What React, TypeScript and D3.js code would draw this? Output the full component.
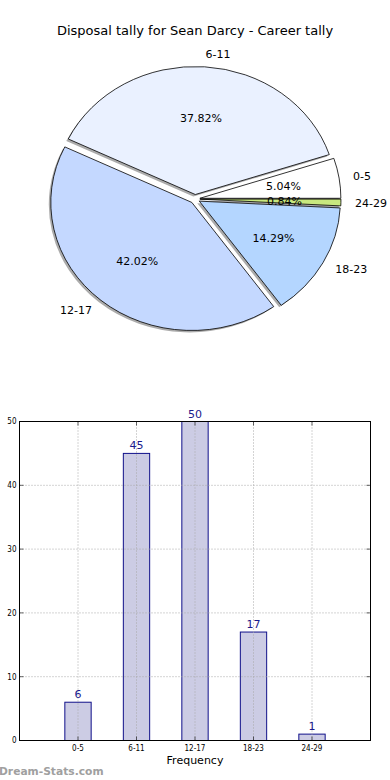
import * as React from 'react';
import * as d3 from 'd3';

// pie + bar data
const categories = ['0-5', '6-11', '12-17', '18-23', '24-29'];
const disposals = [6, 45, 50, 17, 1];
const sliceColors = ['#ffffff', '#eaf1ff', '#c4d8ff', '#b4d6ff', '#c8e87f'];
const yTicks = [0, 10, 20, 30, 40, 50];

const W = 390, H = 780;
const font = '"DejaVu Sans", sans-serif';

function Pie() {
  const cx = 195, cy = 199, rx = 141, ry = 128, explode = 0.035;
  const total = d3.sum(disposals);
  // matplotlib-style angles: ccw from east, starting at 0
  const ang = d3.scaleLinear().domain([0, total]).range([0, 2 * Math.PI]);
  const arc = d3.arc<any>().innerRadius(0).outerRadius(1);
  let acc = 0;
  const slices = disposals.map((v, i) => {
    const t1 = ang(acc), t2 = ang(acc + v);
    acc += v;
    const mid = (t1 + t2) / 2;
    return { i, v, t1, t2, mid };
  });

  return (
    <g>
      {slices.map(s => {
        const ox = cx + explode * rx * Math.cos(s.mid);
        const oy = cy - explode * ry * Math.sin(s.mid);
        const d = arc({ startAngle: Math.PI / 2 - s.t2, endAngle: Math.PI / 2 - s.t1 }) as string;
        return (
          <g key={'w' + s.i} transform={`translate(${ox - 2},${oy + 2}) scale(${rx},${ry})`}>
            <path d={d} fill="#666" opacity={0.55} />
          </g>
        );
      })}
      {slices.map(s => {
        const ox = cx + explode * rx * Math.cos(s.mid);
        const oy = cy - explode * ry * Math.sin(s.mid);
        const d = arc({ startAngle: Math.PI / 2 - s.t2, endAngle: Math.PI / 2 - s.t1 }) as string;
        return (
          <g key={'p' + s.i} transform={`translate(${ox},${oy}) scale(${rx},${ry})`}>
            <path d={d} fill={sliceColors[s.i]} stroke="#000" strokeWidth={0.8}
              vectorEffect="non-scaling-stroke" strokeLinejoin="round" />
          </g>
        );
      })}
      {slices.map(s => {
        const ox = cx + explode * rx * Math.cos(s.mid);
        const oy = cy - explode * ry * Math.sin(s.mid);
        const lx = ox + 1.1 * rx * Math.cos(s.mid);
        const ly = oy - 1.1 * ry * Math.sin(s.mid);
        const px = ox + 0.6 * rx * Math.cos(s.mid);
        const py = oy - 0.6 * ry * Math.sin(s.mid);
        return (
          <g key={'t' + s.i} fontFamily={font} fontSize={11} fill="#000">
            <text x={lx} y={ly} dy="0.35em" textAnchor={Math.cos(s.mid) > 0 ? 'start' : 'end'}>
              {categories[s.i]}
            </text>
            <text x={px} y={py} dy="0.35em" textAnchor="middle">
              {(s.v / total * 100).toFixed(2) + '%'}
            </text>
          </g>
        );
      })}
    </g>
  );
}

function Bars() {
  const left = 19.5, right = 370.5, top = 421.5, bottom = 740.5;
  const x = d3.scaleLinear().domain([-1, 5]).range([left, right]);
  const y = d3.scaleLinear().domain([0, 50]).range([bottom, top]);
  const bw = x(0.45) - x(0);

  return (
    <g>
      {disposals.map((v, i) => (
        <rect key={'b' + i} x={x(i) - bw / 2} y={y(v)} width={bw} height={y(0) - y(v)}
          fill="#ccccE4" stroke="#10108a" strokeWidth={1} />
      ))}
      {/* grid */}
      {yTicks.map(t => (
        <line key={'gy' + t} x1={left} x2={right} y1={y(t)} y2={y(t)}
          stroke="#a8a8a8" strokeWidth={1} strokeDasharray="1,2" />
      ))}
      {categories.map((c, i) => (
        <line key={'gx' + c} x1={x(i)} x2={x(i)} y1={top} y2={bottom}
          stroke="#a8a8a8" strokeWidth={1} strokeDasharray="1,2" />
      ))}
      {/* ticks */}
      {yTicks.map(t => (
        <g key={'ty' + t}>
          <line x1={left} x2={left + 4} y1={y(t)} y2={y(t)} stroke="#000" strokeWidth={0.6} />
          <line x1={right - 4} x2={right} y1={y(t)} y2={y(t)} stroke="#000" strokeWidth={0.6} />
          <text x={left - 3} y={y(t)} dy="0.35em" textAnchor="end" fontFamily='"DejaVu Sans Condensed", sans-serif'
            fontSize={8} fill="#000">{t}</text>
        </g>
      ))}
      {categories.map((c, i) => (
        <g key={'tx' + c}>
          <line x1={x(i)} x2={x(i)} y1={bottom} y2={bottom - 4} stroke="#000" strokeWidth={0.6} />
          <line x1={x(i)} x2={x(i)} y1={top} y2={top + 4} stroke="#000" strokeWidth={0.6} />
          <text x={x(i)} y={bottom + 10} textAnchor="middle" fontFamily='"DejaVu Sans Condensed", sans-serif'
            fontSize={8} fill="#000">{c}</text>
        </g>
      ))}
      <rect x={left} y={top} width={right - left} height={bottom - top} fill="none" stroke="#000" strokeWidth={1} />
      {disposals.map((v, i) => (
        <text key={'v' + i} x={x(i)} y={y(v) - 4} textAnchor="middle" fontFamily={font}
          fontSize={11} fill="#1a1a8c">{v}</text>
      ))}
      <text x={(left + right) / 2} y={764} textAnchor="middle" fontFamily={font} fontSize={11} fill="#000">Frequency</text>
    </g>
  );
}

export default function App() {
  return (
    <svg width={W} height={H} style={{ position: 'absolute', left: 0, top: 0, background: '#fff' }}>
      <rect width={W} height={H} fill="#fff" />
      <text x={195} y={35} textAnchor="middle" fontFamily={font} fontSize={13} fill="#000">
        Disposal tally for Sean Darcy - Career tally
      </text>
      <Pie />
      <Bars />
      <text x={-1} y={775} fontFamily={font} fontSize={10.7} fontWeight="bold" fill="#a0a0a0">Dream-Stats.com</text>
    </svg>
  );
}
